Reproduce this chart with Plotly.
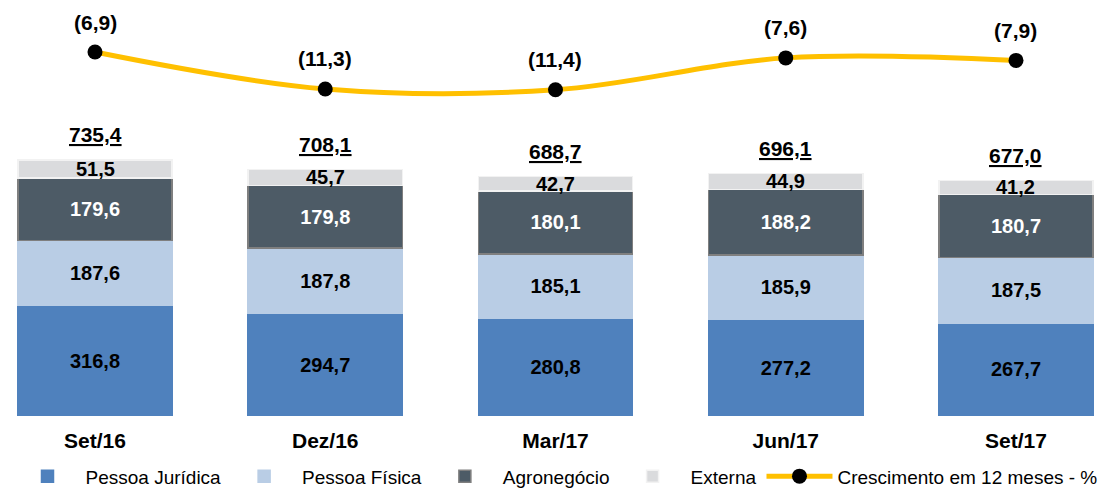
import plotly.graph_objects as go

categories = ["Set/16", "Dez/16", "Mar/17", "Jun/17", "Set/17"]
pessoa_juridica = [316.8, 294.7, 280.8, 277.2, 267.7]
pessoa_fisica = [187.6, 187.8, 185.1, 185.9, 187.5]
agronegocio = [179.6, 179.8, 180.1, 188.2, 180.7]
externa = [51.5, 45.7, 42.7, 44.9, 41.2]
totais = [735.4, 708.1, 688.7, 696.1, 677.0]
crescimento = [-6.9, -11.3, -11.4, -7.6, -7.9]
crescimento_labels = ["(6,9)", "(11,3)", "(11,4)", "(7,6)", "(7,9)"]

FONT = "Liberation Sans, Arial, sans-serif"

def br(v):
    return f"{v:.1f}".replace(".", ",")

fig = go.Figure()

series = [
    ("Pessoa Jurídica", pessoa_juridica, "#4F81BD", "#4F81BD", "black", True),
    ("Pessoa Física", pessoa_fisica, "#B9CDE5", "#B9CDE5", "black", True),
    ("Agronegócio", agronegocio, "#4D5B66", "#7F7F7F", "white", True),
    ("Externa", externa, "#DADBDD", "#F2F2F2", "black", False),
]
for name, vals, color, lcolor, tcolor, show_text in series:
    fig.add_trace(go.Bar(
        x=categories, y=vals, name=name,
        marker=dict(color=color, line=dict(color=lcolor, width=1.5)),
        text=[f"<b>{br(v)}</b>" for v in vals] if show_text else None,
        textposition="inside" if show_text else "none",
        insidetextanchor="middle",
        constraintext="none",
        textfont=dict(family=FONT, size=20, color=tcolor),
        width=0.67,
        hoverinfo="skip",
    ))

fig.add_trace(go.Scatter(
    x=categories, y=crescimento, name="Crescimento em 12 meses - %",
    mode="lines+markers", yaxis="y2",
    line=dict(color="#FFC000", width=5, shape="spline", smoothing=1.0),
    marker=dict(color="black", size=15),
    hoverinfo="skip",
))

annotations = []
base = [a + b + c for a, b, c in zip(pessoa_juridica, pessoa_fisica, agronegocio)]
for cat, b, e, t in zip(categories, base, externa, totais):
    annotations.append(dict(x=cat, y=b + e / 2, xref="x", yref="y", text=f"<b>{br(e)}</b>",
                            showarrow=False, font=dict(family=FONT, size=20, color="black")))
    annotations.append(dict(x=cat, y=t, xref="x", yref="y", text=f"<b><u>{br(t)}</u></b>",
                            showarrow=False, yshift=25, font=dict(family=FONT, size=21, color="black")))
for cat, v, lab in zip(categories, crescimento, crescimento_labels):
    annotations.append(dict(x=cat, y=v, xref="x", yref="y2", text=f"<b>{lab}</b>",
                            showarrow=False, yshift=30, font=dict(family=FONT, size=21, color="black")))

fig.update_layout(
    barmode="stack",
    width=1112, height=490,
    margin=dict(l=0, r=0, t=0, b=74),
    paper_bgcolor="white", plot_bgcolor="white",
    font=dict(family=FONT, color="black"),
    xaxis=dict(range=[-0.4126, 4.417], showgrid=False, zeroline=False, showline=False,
               tickvals=categories, ticktext=[f"<b>{c}</b>" for c in categories],
               tickfont=dict(family=FONT, size=21, color="black"), ticks="", ticklabelstandoff=10),
    yaxis=dict(range=[0, 1195], visible=False, showgrid=False),
    yaxis2=dict(range=[-50.23, -0.71], overlaying="y", visible=False, showgrid=False),
    legend=dict(orientation="h", x=0.5, xanchor="center", xref="container",
                y=0.028, yanchor="middle", yref="container",
                font=dict(family=FONT, size=19, color="black"), traceorder="normal",
                itemwidth=66),
    annotations=annotations,
    showlegend=True,
)

fig.write_html("out.html", config={"displayModeBar": False},
               post_script="document.body.style.margin='0';")
